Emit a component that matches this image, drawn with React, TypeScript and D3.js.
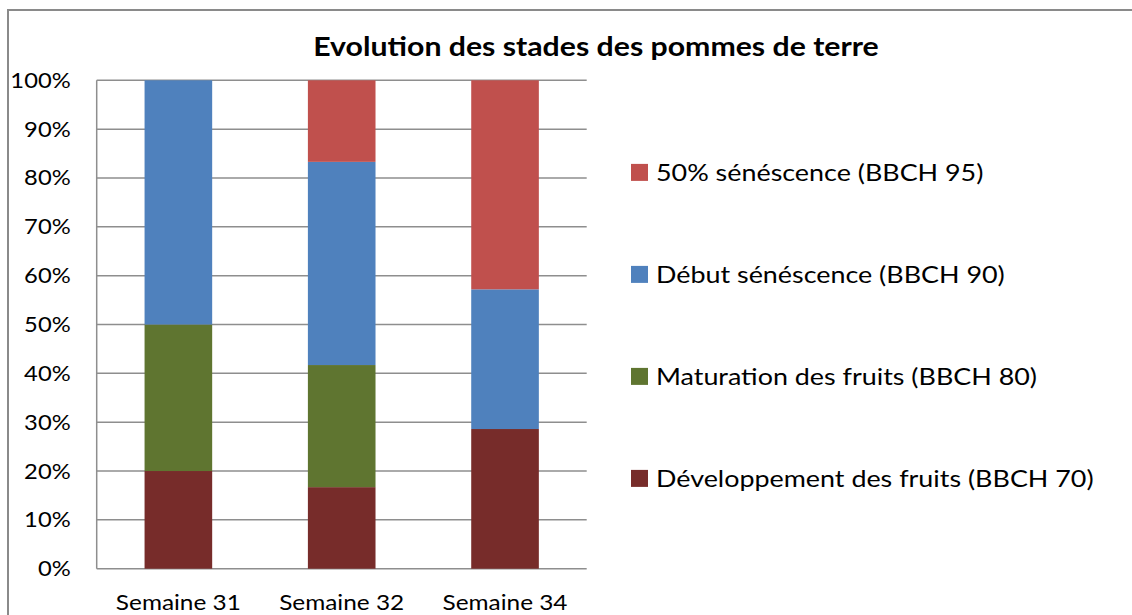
import React, { useEffect, useRef } from "react";
import * as d3 from "d3";

const weeks = ["Semaine 31", "Semaine 32", "Semaine 34"];
const developpement = [20, 16.7, 28.6];
const maturation = [30, 25, 0];
const debutSenescence = [50, 41.6, 28.6];
const senescence50 = [0, 16.7, 42.8];
const seriesNames = [
  "Développement des fruits (BBCH 70)",
  "Maturation des fruits (BBCH 80)",
  "Début sénéscence (BBCH 90)",
  "50% sénéscence (BBCH 95)",
];
const seriesColors = ["#772C2A", "#5F7530", "#4F81BD", "#C0504D"];
const yTicks = [0, 10, 20, 30, 40, 50, 60, 70, 80, 90, 100];
const title = "Evolution des stades des pommes de terre";

const FONT = "Lato, 'Open Sans', sans-serif";

export default function App() {
  const ref = useRef<SVGSVGElement>(null);
  useEffect(() => {
    const svg = d3.select(ref.current);
    svg.selectAll("*").remove();
    const W = 1132, H = 615;
    const left = 96.7, right = 586.7, top = 80.3, bottom = 568.7;

    const rows = weeks.map((w, i) => ({
      week: w,
      s0: developpement[i],
      s1: maturation[i],
      s2: debutSenescence[i],
      s3: senescence50[i],
    }));
    const keys = ["s0", "s1", "s2", "s3"];
    const stacked = d3.stack<any>().keys(keys)(rows);

    const x = d3.scaleBand().domain(weeks).range([left, right]).paddingInner(0.586).paddingOuter(0.293);
    const y = d3.scaleLinear().domain([0, 100]).range([bottom, top]);

    svg.append("rect").attr("x", 0).attr("y", 0).attr("width", W).attr("height", H).attr("fill", "#fff");
    // outer border
    svg.append("rect").attr("x", 8).attr("y", 10).attr("width", W + 20).attr("height", H + 20)
      .attr("fill", "none").attr("stroke", "#8a8a8a").attr("stroke-width", 2);

    const stretch = (k: number) => (sel: any) => {
      sel.each(function (this: SVGTextElement) {
        const len = this.getComputedTextLength();
        d3.select(this).attr("textLength", len * k).attr("lengthAdjust", "spacingAndGlyphs");
      });
    };

    // title
    svg.append("text").attr("x", 596).attr("y", 56).attr("text-anchor", "middle")
      .attr("font-family", FONT).attr("font-weight", "bold").attr("font-size", 27).attr("fill", "#000")
      .text(title).call(stretch(1.12));

    // gridlines
    svg.append("g").selectAll("line").data(yTicks).join("line")
      .attr("x1", left).attr("x2", right).attr("y1", (d) => y(d)).attr("y2", (d) => y(d))
      .attr("stroke", "#8e8e8e").attr("stroke-width", 1.5);
    svg.append("line").attr("x1", left).attr("x2", left).attr("y1", top).attr("y2", bottom)
      .attr("stroke", "#8e8e8e").attr("stroke-width", 1.5);

    // y labels
    svg.append("g").selectAll("text").data(yTicks).join("text")
      .attr("x", 70.7).attr("y", (d) => y(d) + 7.5).attr("text-anchor", "end")
      .attr("font-family", FONT).attr("font-size", 21).attr("fill", "#000")
      .text((d) => d + "%").call(stretch(1.13));

    // bars
    svg.append("g").selectAll("g").data(stacked).join("g")
      .attr("fill", (_d, i) => seriesColors[i])
      .selectAll("rect").data((d) => d).join("rect")
      .attr("x", (d: any) => x(d.data.week)!)
      .attr("width", x.bandwidth())
      .attr("y", (d: any) => y(d[1]))
      .attr("height", (d: any) => y(d[0]) - y(d[1]));

    // x labels
    svg.append("g").selectAll("text").data(weeks).join("text")
      .attr("x", (d) => x(d)! + x.bandwidth() / 2).attr("y", 610).attr("text-anchor", "middle")
      .attr("font-family", FONT).attr("font-size", 21).attr("fill", "#000")
      .text((d) => d).call(stretch(1.16));

    // legend (reverse order)
    const legendOrder = [3, 2, 1, 0];
    const lg = svg.append("g").selectAll("g").data(legendOrder).join("g")
      .attr("transform", (_d, i) => `translate(631, ${172.4 + i * 102})`);
    lg.append("rect").attr("x", 0).attr("y", -8.5).attr("width", 17).attr("height", 17)
      .attr("fill", (d) => seriesColors[d]);
    lg.append("text").attr("x", 25).attr("y", 8.5)
      .attr("font-family", FONT).attr("font-size", 24).attr("fill", "#000")
      .text((d) => seriesNames[d]).call(stretch(1.12));
  }, []);

  return (
    <svg ref={ref} width={1132} height={615}
      style={{ position: "absolute", left: 0, top: 0, display: "block" }} />
  );
}
